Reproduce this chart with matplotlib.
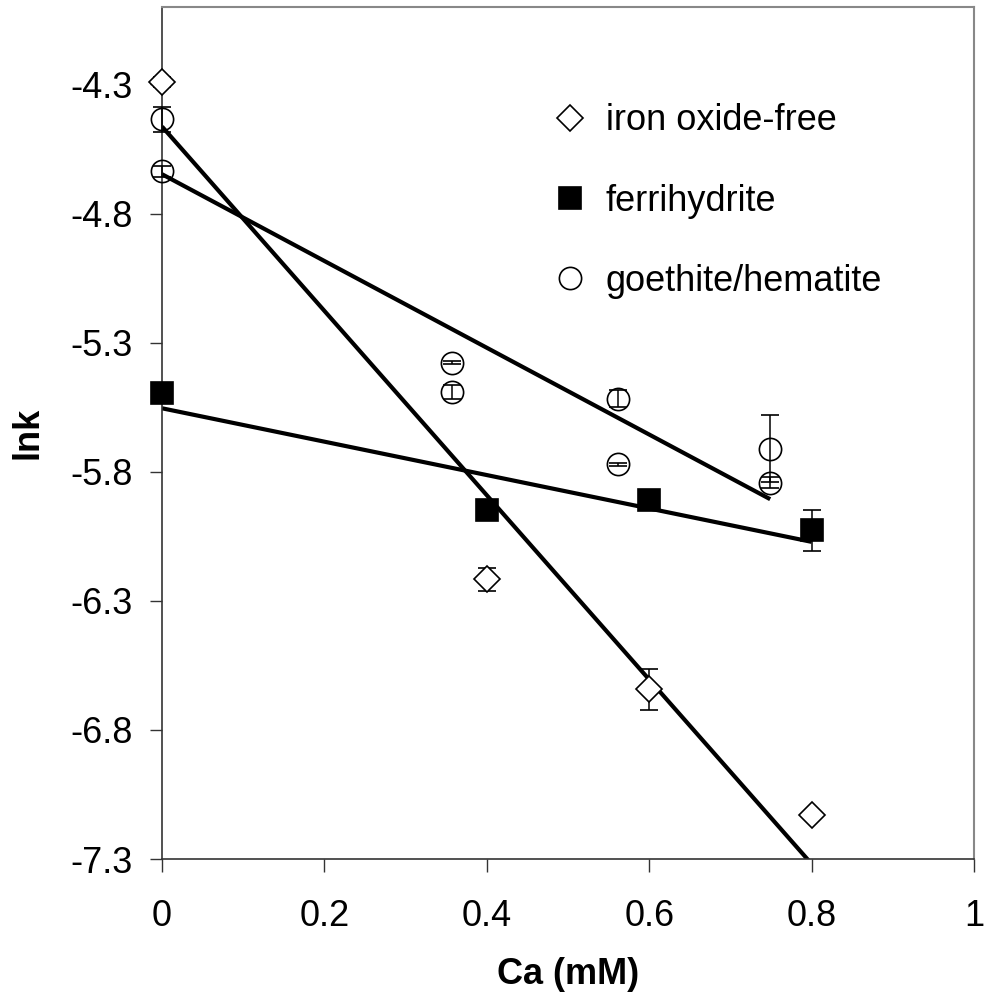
import matplotlib
matplotlib.use("Agg")
import matplotlib.pyplot as plt
import numpy as np

plt.rcParams['font.family'] = ['Liberation Sans', 'DejaVu Sans']

# iron oxide-free
free_x = [0.0, 0.4, 0.6, 0.8]
free_y = [-4.291, -6.216, -6.643, -7.128]
free_err = [0.02, 0.045, 0.08, 0.005]

# ferrihydrite
ferri_x = [0.0, 0.4, 0.6, 0.8]
ferri_y = [-5.494, -5.949, -5.911, -6.027]
ferri_err = [0.005, 0.005, 0.005, 0.08]

# goethite/hematite
goe_x = [0.0, 0.0, 0.357, 0.357, 0.561, 0.561, 0.749, 0.749]
goe_y = [-4.435, -4.637, -5.378, -5.492, -5.517, -5.772, -5.711, -5.842]
goe_err = [0.048, 0.02, 0.005, 0.026, 0.034, 0.005, 0.13, 0.02]

x_ticks = [0, 0.2, 0.4, 0.6, 0.8, 1]
y_ticks = [-7.3, -6.8, -6.3, -5.8, -5.3, -4.8, -4.3]


def trend(xs, ys):
    k, b = np.polyfit(xs, ys, 1)
    xx = np.array([min(xs), max(xs)])
    return xx, k * xx + b


fig = plt.figure(figsize=(9.85, 10), dpi=100)
ax = fig.add_axes([162 / 985, 141 / 1000, 812 / 985, 852 / 1000])

# trend lines
for xs, ys in [(free_x, free_y), (ferri_x, ferri_y), (goe_x, goe_y)]:
    tx, ty = trend(xs, ys)
    ax.plot(tx, ty, color='black', lw=3.0, zorder=2, solid_capstyle='butt')

ebar = dict(ecolor='black', elinewidth=1.1, capsize=6.5, capthick=1.1, linestyle='none', zorder=3)
series = [
    (free_x, free_y, free_err, 'D', 13, 'white', 'iron oxide-free'),
    (ferri_x, ferri_y, ferri_err, 's', 16, 'black', 'ferrihydrite'),
    (goe_x, goe_y, goe_err, 'o', 16, 'none', 'goethite/hematite'),
]
handles = []
for xs, ys, err, mk, ms, fc, lab in series:
    c = ax.errorbar(xs, ys, yerr=err, marker=mk, ms=ms, mfc=fc, mec='black',
                    mew=1.2, label=lab, **ebar)
    c[0].set_clip_on(False)
    for part in c[1] + c[2]:
        part.set_clip_on(False)
    handles.append(c[0])

ax.set_xlim(0, 1)
ax.set_ylim(-7.3, -4.0)
ax.set_xticks(x_ticks)
ax.set_xticklabels(['0', '0.2', '0.4', '0.6', '0.8', '1'])
ax.set_yticks(y_ticks)
ax.set_yticklabels([str(v) for v in y_ticks])
ax.tick_params(axis='both', direction='out', length=9, width=1, labelsize=26, color='#333333')
ax.tick_params(axis='x', pad=20)
ax.tick_params(axis='y', pad=12)

for s in ['left', 'bottom']:
    ax.spines[s].set_color('#333333')
    ax.spines[s].set_linewidth(1.2)
for s in ['top', 'right']:
    ax.spines[s].set_color('#888888')
    ax.spines[s].set_linewidth(1.5)

ax.set_xlabel('Ca (mM)', fontsize=26, fontweight='bold', labelpad=16)
ax.set_ylabel('lnk', fontsize=26, fontweight='bold', labelpad=18)

labels = [s[-1] for s in series]
ax.legend(handles, labels, loc='upper left', bbox_to_anchor=(0.44, 0.925), frameon=False,
          fontsize=26, handlelength=1.0, handletextpad=0.5, labelspacing=1.25, numpoints=1)

fig.savefig('out.png', dpi=100, facecolor='white')
